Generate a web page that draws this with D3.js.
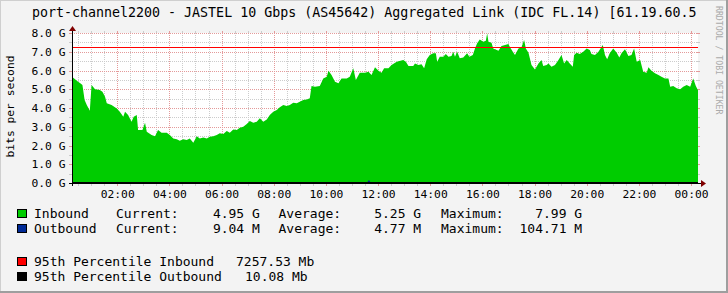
<!DOCTYPE html>
<html>
<head>
<meta charset="utf-8">
<script src="https://cdn.jsdelivr.net/npm/d3@7"></script>
<style>
  body { margin: 0; background: #f3f3f3; }
  svg { display: block; }
  text { font-family: "DejaVu Sans Mono", monospace; }
</style>
</head>
<body>
<script>
// inbound traffic, Gbps
const inTimes = ["00:16","00:30","00:35","00:40","00:45","00:50","00:57","01:01","01:09","01:20","01:26","01:32","01:36","01:47","01:59","02:06","02:14","02:18","02:25","02:33","02:38","02:45","02:48","02:58","03:04","03:08","03:19","03:27","03:34","03:42","03:54","04:01","04:09","04:17","04:24","04:32","04:40","04:47","04:55","05:03","05:10","05:18","05:26","05:33","05:41","05:49","05:56","06:04","06:12","06:19","06:27","06:35","06:42","06:50","06:58","07:05","07:13","07:21","07:28","07:36","07:44","07:51","07:59","08:07","08:14","08:22","08:30","08:37","08:45","08:53","09:00","09:08","09:16","09:23","09:27","09:35","09:46","09:54","10:02","10:06","10:13","10:21","10:29","10:36","10:48","10:55","11:03","11:09","11:18","11:30","11:38","11:45","11:53","12:01","12:08","12:14","12:24","12:31","12:43","12:58","13:04","13:10","13:21","13:25","13:33","13:40","13:46","13:52","13:59","14:07","14:13","14:16","14:22","14:30","14:36","14:42","14:49","14:53","14:57","15:02","15:08","15:16","15:25","15:30","15:38","15:43","15:48","15:54","16:02","16:08","16:11","16:14","16:21","16:25","16:37","16:44","16:52","17:00","17:03","17:10","17:15","17:23","17:30","17:36","17:40","17:46","17:53","18:01","18:09","18:16","18:20","18:28","18:32","18:39","18:47","18:55","19:02","19:08","19:14","19:21","19:28","19:31","19:37","19:44","19:52","20:00","20:07","20:11","20:19","20:27","20:37","20:42","20:47","20:53","21:01","21:09","21:15","21:20","21:28","21:36","21:43","21:49","21:55","22:03","22:10","22:18","22:22","22:29","22:37","22:45","22:52","23:00","23:08","23:12","23:19","23:27","23:35","23:42","23:50","23:58","00:05","00:11","00:16"];
const inValues = [5.67,5.40,5.32,5.23,4.43,4.16,3.86,5.23,5.00,4.96,4.87,4.60,4.25,4.16,3.98,3.80,3.54,3.80,3.63,3.27,3.54,3.63,2.83,2.83,3.22,2.74,2.56,2.50,2.83,2.68,2.68,2.56,2.38,2.33,2.26,2.33,2.29,2.38,2.15,2.50,2.38,2.43,2.38,2.47,2.50,2.56,2.65,2.61,2.77,2.68,2.86,2.83,2.95,3.00,3.15,3.31,3.22,3.27,3.45,3.27,3.39,3.63,3.80,3.89,4.04,4.16,4.11,4.16,4.28,4.25,4.34,4.43,4.46,4.52,5.17,5.14,5.17,5.58,5.67,5.99,5.76,5.40,5.32,5.58,5.58,5.67,6.12,5.49,5.88,5.88,5.93,5.76,6.17,5.99,5.88,6.12,6.12,6.29,6.47,6.56,6.47,6.24,6.24,6.38,6.29,6.34,6.12,6.60,6.83,6.92,6.92,6.47,6.74,6.74,6.88,6.74,6.77,7.00,6.74,7.00,6.65,6.70,6.92,6.74,6.83,7.18,7.45,7.66,7.54,7.59,7.99,7.54,7.48,7.18,7.06,7.31,7.36,7.41,7.27,7.00,6.83,7.18,7.24,7.63,7.18,6.95,6.29,6.06,6.38,6.56,6.24,6.29,6.38,6.20,6.29,6.56,6.83,6.38,6.56,6.38,6.20,6.83,6.95,6.88,7.00,7.18,7.09,6.88,6.83,7.00,7.36,6.83,6.60,6.92,7.18,6.95,6.70,6.92,7.13,6.77,6.83,7.18,6.47,6.56,5.94,5.88,6.17,5.99,5.85,5.76,5.67,5.58,5.58,5.14,5.17,5.05,5.00,5.14,5.23,5.14,5.58,5.17,4.95];

// outbound traffic, Mbps
const outTimes = ["00:16","03:00","06:00","09:00","11:30","11:36","11:39","11:42","14:00","17:00","20:00","23:00","00:16"];
const outValues = [4.1,3.2,2.8,4.6,5.1,5.3,104.71,5.0,5.6,6.2,5.4,4.8,9.04];

const pct95In = 7257.53;   // Mb
const pct95Out = 10.08;    // Mb

const yTicks = [0, 1, 2, 3, 4, 5, 6, 7, 8];

const title = "port-channel2200 - JASTEL 10 Gbps (AS45642) Aggregated Link (IDC FL.14) [61.19.60.5";

const legendRows = [
  { name: "Inbound",  color: "#00cc00", cur: "4.95", curU: "G", avg: "5.25", avgU: "G", max: "7.99", maxU: "G" },
  { name: "Outbound", color: "#002a97", cur: "9.04", curU: "M", avg: "4.77", avgU: "M", max: "104.71", maxU: "M" }
];
const pctRows = [
  { name: "95th Percentile Inbound",  color: "#ff0000", value: "7257.53 Mb" },
  { name: "95th Percentile Outbound", color: "#000000", value: "10.08 Mb" }
];

const W = 728, H = 293;
const plot = { left: 72, right: 698, top: 33, bottom: 183 };

const parseTime = d3.timeParse("%Y-%m-%d %H:%M");
function toDates (times) {
  let day = 1, prev = -1;
  return times.map(t => {
    const [h, m] = t.split(":").map(Number);
    if (h * 60 + m < prev) day++;
    prev = h * 60 + m;
    return parseTime(`2024-01-0${day} ${t}`);
  });
}

const inData = toDates(inTimes).map((t, i) => ({ t, v: inValues[i] }));
const outData = toDates(outTimes).map((t, i) => ({ t, v: outValues[i] / 1000 }));

const x = d3.scaleTime()
  .domain([inData[0].t, inData[inData.length - 1].t])
  .range([plot.left, plot.right]);

const y = d3.scaleLinear()
  .domain([0, 8])
  .range([plot.bottom, plot.top]);

const svg = d3.select("body").append("svg")
  .attr("width", W)
  .attr("height", H);

// background + rrdtool style shading
svg.append("rect").attr("width", W).attr("height", H).attr("fill", "#f3f3f3");
svg.append("path").attr("d", `M0,${H} V0 H${W}`).attr("stroke", "#cfcfcf").attr("stroke-width", 2).attr("fill", "none");
svg.append("path").attr("d", `M0,${H - 1} H${W - 1} V0`).attr("stroke", "#9e9e9e").attr("stroke-width", 2).attr("fill", "none");

svg.append("rect")
  .attr("x", plot.left).attr("y", plot.top)
  .attr("width", plot.right - plot.left).attr("height", plot.bottom - plot.top)
  .attr("fill", "#fff");

// grid
const majorX = x.ticks(d3.timeHour.every(2));
const minorX = x.ticks(d3.timeMinute.every(30)).filter(d => d.getMinutes() !== 0 || d.getHours() % 2 !== 0);
const minorY = d3.range(0.5, 8, 1);
const gridMinor = "#cccccc", gridMajor = "#e49a9a";

const grid = svg.append("g").attr("shape-rendering", "crispEdges");

function vLines (vals, color) {
  vals.forEach(d => {
    const px = Math.round(x(d)) + 0.5;
    grid.append("line").attr("x1", px).attr("x2", px).attr("y1", plot.top).attr("y2", plot.bottom)
      .attr("stroke", color).attr("stroke-dasharray", "1,1");
    grid.append("line").attr("x1", px).attr("x2", px).attr("y1", plot.bottom).attr("y2", plot.bottom + 3)
      .attr("stroke", color);
    grid.append("line").attr("x1", px).attr("x2", px).attr("y1", plot.top - 2).attr("y2", plot.top + 1)
      .attr("stroke", color);
  });
}
function hLines (vals, color) {
  vals.forEach(d => {
    const py = Math.round(y(d)) + 0.5;
    grid.append("line").attr("x1", plot.left).attr("x2", plot.right).attr("y1", py).attr("y2", py)
      .attr("stroke", color).attr("stroke-dasharray", "1,1");
    grid.append("line").attr("x1", plot.left - 3).attr("x2", plot.left).attr("y1", py).attr("y2", py)
      .attr("stroke", color);
    grid.append("line").attr("x1", plot.right - 1).attr("x2", plot.right + 2).attr("y1", py).attr("y2", py)
      .attr("stroke", color);
  });
}
vLines(minorX, gridMinor);
hLines(minorY, gridMinor);
vLines(majorX, gridMajor);
hLines(yTicks.slice(1), gridMajor);

// inbound area
const area = d3.area()
  .x(d => x(d.t))
  .y0(y(0))
  .y1(d => y(d.v));

svg.append("path")
  .datum(inData)
  .attr("fill", "#00cc00")
  .attr("d", area);

// outbound line
svg.append("path")
  .datum(outData)
  .attr("fill", "none")
  .attr("stroke", "#002a97")
  .attr("stroke-width", 1.2)
  .attr("d", d3.line().x(d => x(d.t)).y(d => y(d.v)));

// 95th percentile rules
const rules = svg.append("g").attr("shape-rendering", "crispEdges");
rules.append("line")
  .attr("x1", plot.left).attr("x2", plot.right)
  .attr("y1", Math.round(y(pct95In / 1000)) + 0.5).attr("y2", Math.round(y(pct95In / 1000)) + 0.5)
  .attr("stroke", "#ff0000");
rules.append("line")
  .attr("x1", plot.left).attr("x2", plot.right)
  .attr("y1", Math.round(y(pct95Out / 1000)) - 0.5).attr("y2", Math.round(y(pct95Out / 1000)) - 0.5)
  .attr("stroke", "#000");

// axes lines + arrows
const axes = svg.append("g").attr("shape-rendering", "crispEdges");
axes.append("line").attr("x1", plot.left - 3).attr("x2", plot.right + 4)
  .attr("y1", plot.bottom + 0.5).attr("y2", plot.bottom + 0.5).attr("stroke", "#000");
axes.append("line").attr("x1", plot.left + 0.5).attr("x2", plot.left + 0.5)
  .attr("y1", plot.bottom + 3).attr("y2", plot.top - 3).attr("stroke", "#000");
svg.append("path")
  .attr("d", `M${plot.right + 3},${plot.bottom - 3} L${plot.right + 8},${plot.bottom + 0.5} L${plot.right + 3},${plot.bottom + 4} Z`)
  .attr("fill", "#800000");
svg.append("path")
  .attr("d", `M${plot.left - 3},${plot.top - 2} L${plot.left + 0.5},${plot.top - 7} L${plot.left + 4},${plot.top - 2} Z`)
  .attr("fill", "#800000");

// tick labels
const yAxis = d3.axisLeft(y)
  .tickValues(yTicks)
  .tickFormat(d => d3.format(".1f")(d) + " G")
  .tickSize(0)
  .tickPadding(6.5);

const xAxis = d3.axisBottom(x)
  .ticks(d3.timeHour.every(2))
  .tickFormat(d3.timeFormat("%H:%M"))
  .tickSize(0)
  .tickPadding(6.5);

svg.append("g")
  .attr("transform", `translate(${plot.left},0)`)
  .call(yAxis)
  .call(g => g.select(".domain").remove())
  .selectAll("text")
  .attr("font-family", "DejaVu Sans Mono")
  .attr("font-size", "11.3px")
  .attr("fill", "#000");

svg.append("g")
  .attr("transform", `translate(0,${plot.bottom})`)
  .call(xAxis)
  .call(g => g.select(".domain").remove())
  .selectAll("text")
  .attr("font-family", "DejaVu Sans Mono")
  .attr("font-size", "11.3px")
  .attr("fill", "#000");

svg.append("text")
  .attr("transform", "translate(13.5,106.5) rotate(-90)")
  .attr("text-anchor", "middle")
  .attr("font-size", "11.3px")
  .text("bits per second");

// title
svg.append("text")
  .attr("x", 32).attr("y", 17)
  .attr("font-size", "13.3px")
  .text(title);

// watermark
svg.append("text")
  .attr("transform", "translate(715.5,6) rotate(90)")
  .attr("font-size", "8.2px")
  .attr("fill", "#aaaaaa")
  .text("RRDTOOL / TOBI OETIKER");

// legend
const legend = svg.append("g").attr("font-size", "13px").attr("fill", "#000");

legendRows.forEach((r, i) => {
  const by = 218 + i * 15;
  legend.append("rect").attr("x", 17.5).attr("y", by - 8.5).attr("width", 9).attr("height", 8)
    .attr("fill", r.color).attr("stroke", "#000");
  legend.append("text").attr("x", 34).attr("y", by).text(r.name);
  legend.append("text").attr("x", 116).attr("y", by).text("Current:");
  legend.append("text").attr("x", 244.2).attr("y", by).attr("text-anchor", "end").text(r.cur);
  legend.append("text").attr("x", 252).attr("y", by).text(r.curU);
  legend.append("text").attr("x", 278.5).attr("y", by).text("Average:");
  legend.append("text").attr("x", 405.5).attr("y", by).attr("text-anchor", "end").text(r.avg);
  legend.append("text").attr("x", 413.3).attr("y", by).text(r.avgU);
  legend.append("text").attr("x", 441).attr("y", by).text("Maximum:");
  legend.append("text").attr("x", 566.5).attr("y", by).attr("text-anchor", "end").text(r.max);
  legend.append("text").attr("x", 574.3).attr("y", by).text(r.maxU);
});

pctRows.forEach((r, i) => {
  const by = 266 + i * 15;
  legend.append("rect").attr("x", 17.5).attr("y", by - 8.5).attr("width", 9).attr("height", 8)
    .attr("fill", r.color).attr("stroke", "#000");
  legend.append("text").attr("x", 34).attr("y", by).text(r.name);
  legend.append("text").attr("x", i === 0 ? 236 : 245).attr("y", by).text(r.value);
});
</script>
</body>
</html>
